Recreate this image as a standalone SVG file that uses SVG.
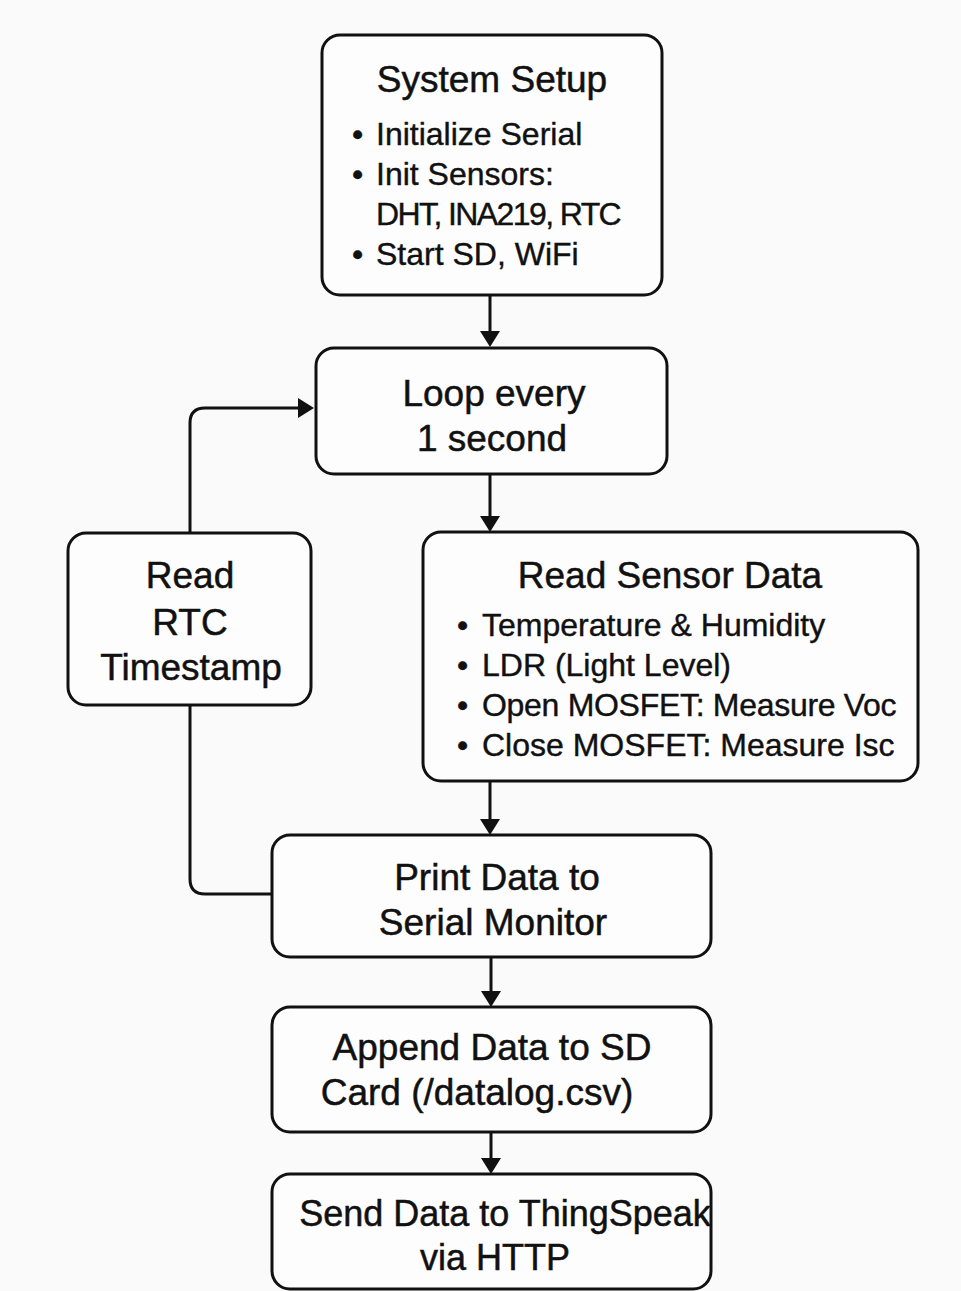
<svg xmlns="http://www.w3.org/2000/svg" width="961" height="1291" viewBox="0 0 961 1291">
<style>
.box{fill:#fdfdfd;stroke:#111;stroke-width:3}
.t{font-family:"Liberation Sans",Arial,sans-serif;font-size:37px;fill:#111;stroke:#111;stroke-width:0.5;text-anchor:middle}
.b{font-family:"Liberation Sans",Arial,sans-serif;font-size:32px;fill:#111;stroke:#111;stroke-width:0.4}
.c{fill:none;stroke:#111;stroke-width:3}
</style>
<defs>
<marker id="ah" markerUnits="userSpaceOnUse" markerWidth="18" markerHeight="22" refX="12" refY="10" orient="auto">
<path d="M0,0 L16,10 L0,20 Z" fill="#111"/>
</marker>
</defs>
<rect width="961" height="1291" fill="#fafafa"/>
<g id="connectors">
<path class="c" d="M490 295 V343" marker-end="url(#ah)"/>
<path class="c" d="M490 474 V528" marker-end="url(#ah)"/>
<path class="c" d="M190 533 V423 Q190 408 205 408 H310" marker-end="url(#ah)"/>
<path class="c" d="M190 705 V879 Q190 894 205 894 H272"/>
<path class="c" d="M490 781 V831" marker-end="url(#ah)"/>
<path class="c" d="M491 957 V1003" marker-end="url(#ah)"/>
<path class="c" d="M491 1132 V1170" marker-end="url(#ah)"/>
</g>
<g id="setup">
<rect class="box" x="322" y="35" width="340" height="260" rx="18"/>
<text class="t" x="492" y="92">System Setup</text>
<text class="b" x="352" y="145">•</text><text class="b" x="376" y="145">Initialize Serial</text>
<text class="b" x="352" y="185">•</text><text class="b" x="376" y="185">Init Sensors:</text>
<text class="b" x="376" y="225" letter-spacing="-1.6">DHT, INA219, RTC</text>
<text class="b" x="352" y="265">•</text><text class="b" x="376" y="265">Start SD, WiFi</text>
</g>
<g id="loop">
<rect class="box" x="316" y="348" width="351" height="126" rx="18"/>
<text class="t" x="494" y="406">Loop every</text>
<text class="t" x="492" y="451">1 second</text>
</g>
<g id="rtc">
<rect class="box" x="68" y="533" width="243" height="172" rx="18"/>
<text class="t" x="190" y="588">Read</text>
<text class="t" x="190" y="635">RTC</text>
<text class="t" x="191" y="680">Timestamp</text>
</g>
<g id="sensors">
<rect class="box" x="423" y="532" width="495" height="249" rx="18"/>
<text class="t" x="670" y="588">Read Sensor Data</text>
<text class="b" x="457" y="636">•</text><text class="b" x="482" y="636">Temperature &amp; Humidity</text>
<text class="b" x="457" y="676">•</text><text class="b" x="482" y="676">LDR (Light Level)</text>
<text class="b" x="457" y="716">•</text><text class="b" x="482" y="716" letter-spacing="-0.3">Open MOSFET: Measure Voc</text>
<text class="b" x="457" y="756">•</text><text class="b" x="482" y="756">Close MOSFET: Measure Isc</text>
</g>
<g id="print">
<rect class="box" x="272" y="835" width="439" height="122" rx="18"/>
<text class="t" x="497" y="890">Print Data to</text>
<text class="t" x="493" y="935">Serial Monitor</text>
</g>
<g id="append">
<rect class="box" x="272" y="1007" width="439" height="125" rx="18"/>
<text class="t" x="492" y="1060">Append Data to SD</text>
<text class="t" x="477" y="1105">Card (/datalog.csv)</text>
</g>
<g id="send">
<rect class="box" x="272" y="1174" width="439" height="115" rx="18"/>
<text class="t" x="505" y="1226" style="font-size:36px">Send Data to ThingSpeak</text>
<text class="t" x="495" y="1270" style="font-size:36px">via HTTP</text>
</g>
</svg>
